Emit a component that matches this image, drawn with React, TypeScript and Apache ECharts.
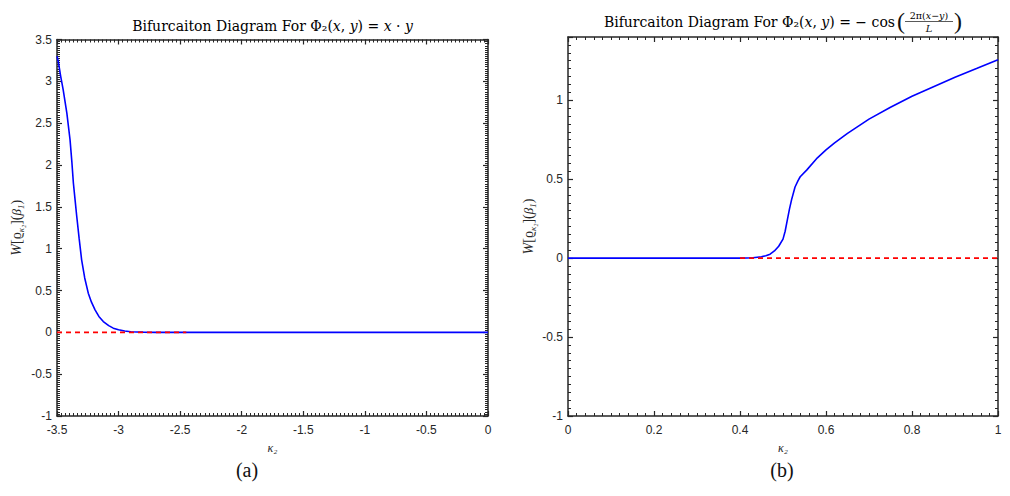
import React, { useEffect, useRef } from "react";
import * as echarts from "echarts";

// ---- Data ----
// Panel (a): Phi2 = x*y
const aBlueX = [-3.5, -3.49, -3.47, -3.45, -3.42, -3.394, -3.38, -3.367, -3.353, -3.34, -3.32, -3.3, -3.275, -3.246, -3.22, -3.191, -3.16, -3.124, -3.08, -3.043, -3.0, -2.95, -2.9, -2.8, -2.7, -2.5, -2.0, -1.5, -1.0, -0.5, 0];
const aBlueY = [3.3, 3.24, 3.06, 2.9, 2.62, 2.3, 2.05, 1.785, 1.58, 1.39, 1.12, 0.867, 0.65, 0.468, 0.36, 0.269, 0.19, 0.129, 0.08, 0.05, 0.03, 0.015, 0.007, 0.002, 0, 0, 0, 0, 0, 0, 0];
const aRedX = [-3.5, -2.45];
const aRedY = [0, 0];
// Panel (b): Phi2 = -cos(2pi(x-y)/L)
const bBlueX = [0, 0.4, 0.43, 0.45, 0.46, 0.47, 0.48, 0.49, 0.5, 0.505, 0.51, 0.515, 0.52, 0.528, 0.535, 0.54, 0.555, 0.58, 0.6, 0.62, 0.65, 0.7, 0.75, 0.8, 0.85, 0.9, 0.95, 1.0];
const bBlueY = [0, 0, 0.002, 0.008, 0.015, 0.025, 0.045, 0.075, 0.12, 0.17, 0.24, 0.31, 0.37, 0.45, 0.49, 0.515, 0.557, 0.635, 0.685, 0.73, 0.79, 0.88, 0.955, 1.025, 1.085, 1.145, 1.2, 1.256];
const bRedX = [0.4, 1.0];
const bRedY = [0, 0];

const aXRange = [-3.5, 0];
const aYRange = [-1, 3.5];
const bXRange = [0, 1];
const bYRange = [-1, 1.4];

const titleHead = "Bifurcaiton Diagram For Φ₂(";
const captionA = "(a)";
const captionB = "(b)";

const AXIS_COLOR = "#262626";
const SANS = "'Liberation Sans', Arial, Helvetica, sans-serif";
const SERIF = "'Liberation Serif', 'Times New Roman', serif";
const TSERIF = "'DejaVu Serif', serif";

const zip = (xs: number[], ys: number[]) => xs.map((x, i) => [x, ys[i]]);

const isMultiple = (v: number, step: number) =>
  Math.abs(v / step - Math.round(v / step)) < 1e-6;

function axisBase(
  range: number[],
  interval: number,
  minorSplit: number,
  gridIndex: number,
  position: string,
  showLabel: boolean
) {
  return {
    type: "value",
    gridIndex,
    position,
    min: range[0],
    max: range[1],
    interval,
    axisLine: { show: true, onZero: false, lineStyle: { color: AXIS_COLOR, width: 1.5 } },
    axisTick: { show: true, inside: true, length: 5, lineStyle: { color: AXIS_COLOR, width: 1.2 } },
    minorTick: { show: true, splitNumber: minorSplit, length: 3, lineStyle: { color: AXIS_COLOR, width: 1 } },
    splitLine: { show: false },
    minorSplitLine: { show: false },
    axisLabel: {
      show: showLabel,
      color: AXIS_COLOR,
      fontSize: 12,
      fontFamily: SANS,
      margin: position === "bottom" ? 8 : 5,
      formatter: (v: number) => (isMultiple(v, interval) ? String(+v.toFixed(6)) : ""),
    },
  };
}

const yName = "{i|W}{n|[ϱ}{s|κ₂}{n|](}{g|β}{s|1}{n|)}";
const yNameRich = {
  n: { fontFamily: SERIF, fontSize: 14, lineHeight: 18, color: AXIS_COLOR },
  i: { fontStyle: "italic", fontFamily: SERIF, fontSize: 14, lineHeight: 18, color: AXIS_COLOR },
  g: { fontStyle: "italic", fontFamily: SERIF, fontSize: 13, lineHeight: 18, color: AXIS_COLOR },
  s: { fontStyle: "italic", fontFamily: SERIF, fontSize: 9, lineHeight: 18, verticalAlign: "bottom", color: AXIS_COLOR },
};

export default function App() {
  const ref = useRef<HTMLDivElement>(null);
  useEffect(() => {
    if (!ref.current) return;
    const chart = echarts.init(ref.current, null, { renderer: "svg" });

    const xName = {
      name: "κ₂",
      nameLocation: "middle",
      nameGap: 26,
      nameTextStyle: { fontStyle: "italic", fontFamily: SERIF, fontSize: 12, color: AXIS_COLOR },
    };
    const xa0 = { ...axisBase(aXRange, 0.5, 15, 0, "bottom", true), ...xName };
    const xa1 = axisBase(aXRange, 0.5, 15, 0, "top", false);
    const ya0 = {
      ...axisBase(aYRange, 0.5, 20, 0, "left", true),
      name: yName,
      nameLocation: "middle",
      nameGap: 32,
      nameTextStyle: { rich: yNameRich, fontFamily: SERIF, fontSize: 14, color: AXIS_COLOR },
    };
    const ya1 = axisBase(aYRange, 0.5, 20, 0, "right", false);

    const xb0 = { ...axisBase(bXRange, 0.2, 10, 1, "bottom", true), ...xName };
    const xb1 = axisBase(bXRange, 0.2, 10, 1, "top", false);
    const yb0 = {
      ...axisBase(bYRange, 0.5, 10, 1, "left", true),
      name: yName,
      nameLocation: "middle",
      nameGap: 31,
      nameTextStyle: { rich: yNameRich, fontFamily: SERIF, fontSize: 14, color: AXIS_COLOR },
    };
    const yb1 = axisBase(bYRange, 0.5, 10, 1, "right", false);

    const titleRich = {
      i: { fontStyle: "italic", fontFamily: TSERIF, fontSize: 14, color: "#111" },
      n: { fontFamily: TSERIF, fontSize: 14, color: "#111" },
    };

    chart.setOption({
      animation: false,
      backgroundColor: "#ffffff",
      grid: [
        { left: 57, top: 39.5, width: 431, height: 376.5, containLabel: false },
        { left: 568, top: 37, width: 430, height: 379, containLabel: false },
      ],
      xAxis: [xa0, xa1, xb0, xb1],
      yAxis: [ya0, ya1, yb0, yb1],
      series: [
        {
          type: "line",
          xAxisIndex: 0,
          yAxisIndex: 0,
          data: zip(aBlueX, aBlueY),
          showSymbol: false,
          lineStyle: { color: "#0000ff", width: 1.6 },
          z: 2,
        },
        {
          type: "line",
          xAxisIndex: 0,
          yAxisIndex: 0,
          data: zip(aRedX, aRedY),
          showSymbol: false,
          lineStyle: { color: "#ff0000", width: 1.6, type: [5, 4] },
          z: 3,
        },
        {
          type: "line",
          xAxisIndex: 2,
          yAxisIndex: 2,
          data: zip(bBlueX, bBlueY),
          showSymbol: false,
          lineStyle: { color: "#0000ff", width: 1.6 },
          z: 2,
        },
        {
          type: "line",
          xAxisIndex: 2,
          yAxisIndex: 2,
          data: zip(bRedX, bRedY),
          showSymbol: false,
          lineStyle: { color: "#ff0000", width: 1.6, type: [5, 4] },
          z: 3,
        },
      ],
      graphic: [
        {
          type: "text",
          x: 272.5,
          y: 26,
          style: {
            text: "{n|" + titleHead + "}{i|x}{n|, }{i|y}{n|) = }{i|x}{n| · }{i|y}",
            rich: titleRich,
            align: "center",
            verticalAlign: "middle",
          },
        },
        {
          type: "text",
          x: 895,
          y: 22,
          style: {
            text: "{n|" + titleHead + "}{i|x}{n|, }{i|y}{n|) = − cos}",
            rich: titleRich,
            align: "right",
            verticalAlign: "middle",
          },
        },
        {
          type: "text",
          x: 901,
          y: 21,
          style: { text: "(", font: "24px " + SERIF, fill: "#111", align: "center", verticalAlign: "middle" },
        },
        {
          type: "text",
          x: 958,
          y: 21,
          style: { text: ")", font: "24px " + SERIF, fill: "#111", align: "center", verticalAlign: "middle" },
        },
        {
          type: "text",
          x: 929,
          y: 15,
          style: {
            text: "{n|2π(}{i|x}{n|−}{i|y}{n|)}",
            rich: {
              n: { fontFamily: TSERIF, fontSize: 9.5, color: "#111" },
              i: { fontFamily: TSERIF, fontSize: 9.5, fontStyle: "italic", color: "#111" },
            },
            align: "center",
            verticalAlign: "middle",
          },
        },
        {
          type: "line",
          shape: { x1: 905, y1: 21.5, x2: 953, y2: 21.5 },
          style: { stroke: "#111", lineWidth: 0.7 },
        },
        {
          type: "text",
          x: 929,
          y: 28.5,
          style: { text: "L", font: "italic 10px " + TSERIF, fill: "#111", align: "center", verticalAlign: "middle" },
        },
        {
          type: "text",
          x: 247,
          y: 470,
          style: { text: captionA, font: "20px " + SERIF, fill: "#111", align: "center", verticalAlign: "middle" },
        },
        {
          type: "text",
          x: 782,
          y: 470,
          style: { text: captionB, font: "20px " + SERIF, fill: "#111", align: "center", verticalAlign: "middle" },
        },
      ],
    });
    return () => chart.dispose();
  }, []);

  return (
    <div
      ref={ref}
      style={{ position: "fixed", left: 0, top: 0, width: 1010, height: 496, background: "#fff" }}
    />
  );
}
